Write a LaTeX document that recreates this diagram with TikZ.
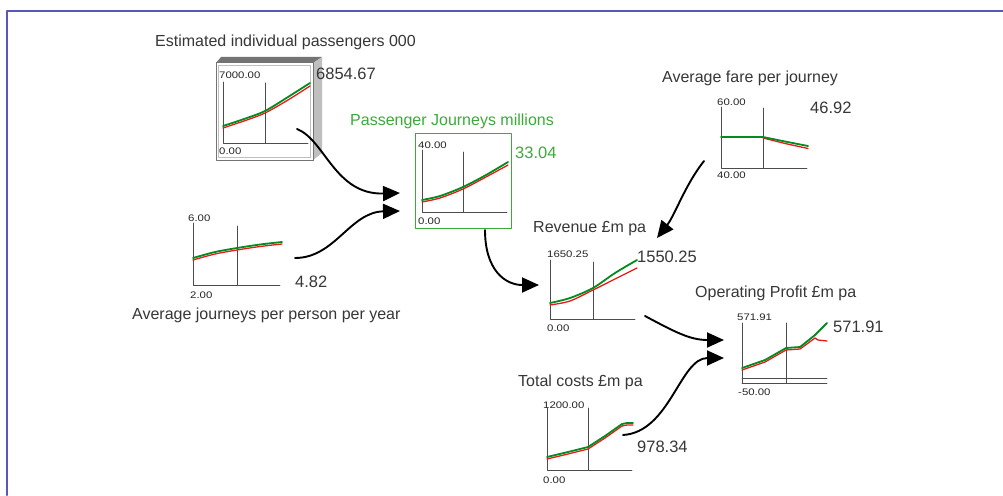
\documentclass[tikz,border=0pt]{standalone}
\usepackage{fontspec}
\setmainfont{Liberation Sans}
\newfontfamily\tickfont[FakeStretch=1.2]{Liberation Sans}
\usetikzlibrary{arrows.meta}
\definecolor{framecol}{RGB}{88,88,184}
\definecolor{runcol}{RGB}{0,140,30}
\definecolor{basecol}{RGB}{235,25,25}
\definecolor{txtcol}{RGB}{55,55,55}
\definecolor{pjgreen}{RGB}{60,170,60}

\begin{document}
\begin{tikzpicture}[x=1pt,y=-1pt,line cap=round,line join=round,
  axis/.style={line width=0.9pt,color=black!70},
  run/.style={line width=1.8pt,color=runcol},
  base/.style={line width=1.3pt,color=basecol},
  flow/.style={line width=1.9pt,-{Triangle[length=17pt,width=15pt]}},
  title/.style={anchor=west,inner sep=0pt,text=txtcol,font=\fontsize{16}{16}\selectfont},
  value/.style={anchor=west,inner sep=0pt,text=txtcol,font=\fontsize{16.5}{16}\selectfont},
  tick/.style={anchor=west,inner sep=0pt,text=black!85,font=\tickfont\fontsize{9.5}{9.5}\selectfont}]
\useasboundingbox (0,0) rectangle (1003,495);
\fill[white] (0,0) rectangle (1003,495);
% frame
\draw[line width=2.2pt,color=framecol] (7,495) -- (7,11) -- (1003,11);

% Estimated individual passengers
\fill[black!55] (216,63) -- (221,57) -- (322,57) -- (313,63) -- cycle;
\fill[black!25] (313,63) -- (322,57) -- (322,153) -- (313,160) -- cycle;
\draw[black!55,line width=1pt] (216,63) rectangle (313,160);
\draw[black!25] (218.5,65.5) rectangle (310.5,157.5);
\draw[axis] (223,82) -- (223,143) -- (308,143);
\draw[axis] (265,83) -- (265,143);
\draw[base] plot[smooth] coordinates {(223,128) (244,121) (265,113) (288,100) (310,86)};
\draw[run] plot[smooth] coordinates {(223,126) (244,119) (265,111) (288,97) (310,83)};
\node[title] (est-title) at (155,42) {Estimated individual passengers 000};
\node[tick] (est-max) at (219,75) {7000.00};
\node[tick] (est-min) at (219,151) {0.00};
\node[value] (est-val) at (316,74) {6854.67};

% Passenger Journeys millions
\draw[pjgreen,line width=1pt] (415,133) rectangle (511,228);
\draw[axis] (422,150) -- (422,212) -- (507,212);
\draw[axis] (463,152) -- (463,212);
\draw[base] plot[smooth] coordinates {(422,202) (440,198) (463,189) (486,177) (508,165)};
\draw[run] plot[smooth] coordinates {(422,200) (440,196) (463,187) (486,175) (508,162)};
\node[title,text=pjgreen] (pj-title) at (350,121) {Passenger Journeys millions};
\node[tick] (pj-max) at (418,145) {40.00};
\node[tick] (pj-min) at (418,221) {0.00};
\node[value,text=pjgreen] (pj-val) at (515,153) {33.04};

% Average fare per journey
\draw[axis] (721,107) -- (721,168) -- (807,168);
\draw[axis] (763,108) -- (763,168);
\draw[base] (763,138) -- (785,143.5) -- (808,148.5);
\draw[run] (721,137) -- (763,137) -- (785,141.5) -- (808,146);
\node[title] (fare-title) at (662,78) {Average fare per journey};
\node[tick] (fare-max) at (717,102) {60.00};
\node[tick] (fare-min) at (717,175) {40.00};
\node[value] (fare-val) at (810,108) {46.92};

% Average journeys per person per year
\draw[axis] (193,223) -- (193,285) -- (280,285);
\draw[axis] (237,226) -- (237,285);
\draw[base] plot[smooth] coordinates {(193,260) (215,254) (237,250) (260,246.5) (282,244)};
\draw[run] plot[smooth] coordinates {(193,258) (215,252) (237,248) (260,244.5) (282,242)};
\node[title] (ajp-title) at (132,315) {Average journeys per person per year};
\node[tick] (ajp-max) at (188,218) {6.00};
\node[tick] (ajp-min) at (190,295) {2.00};
\node[value] (ajp-val) at (295,282) {4.82};

% Revenue
\draw[axis] (550,260) -- (550,319) -- (635,319);
\draw[axis] (593,262) -- (593,319);
\draw[base] plot[smooth] coordinates {(550,305) (570,301) (593,290) (615,279) (637,268)};
\draw[run] plot[smooth] coordinates {(550,303) (570,298) (593,288) (615,273) (637,260)};
\node[title] (rev-title) at (533,229) {Revenue £m pa};
\node[tick] (rev-max) at (547,254) {1650.25};
\node[tick] (rev-min) at (547,328) {0.00};
\node[value] (rev-val) at (637,257) {1550.25};

% Operating Profit
\draw[axis] (742,323) -- (742,383);
\draw[axis] (742,378) -- (827,378);
\draw[axis] (742,383) -- (827,383);
\draw[axis] (786,323) -- (786,383);
\draw[base] (742,370) -- (765,362) -- (786,350) -- (800,349) -- (815,338) -- (818,340) -- (827,341);
\draw[run] (742,368) -- (765,360) -- (786,348) -- (800,347) -- (815,335) -- (827,323);
\node[title] (op-title) at (695,293) {Operating Profit £m pa};
\node[tick] (op-max) at (737,317) {571.91};
\node[tick] (op-min) at (738,392) {-50.00};
\node[value] (op-val) at (833,327) {571.91};

% Total costs
\draw[axis] (547,408) -- (547,470) -- (632,470);
\draw[axis] (588,408) -- (588,470);
\draw[base] (547,459) -- (568,454) -- (588,449) -- (605,438) -- (622,426) -- (627,425) -- (633,425);
\draw[run] (547,457) -- (568,452) -- (588,447) -- (605,436) -- (622,424) -- (627,423) -- (633,423);
\node[title] (cost-title) at (518,382) {Total costs £m pa};
\node[tick] (cost-max) at (543,405) {1200.00};
\node[tick] (cost-min) at (543,480) {0.00};
\node[value] (cost-val) at (637,447) {978.34};

% links
\coordinate (est-out) at (297,129);
\coordinate (pj-in-a) at (400,193);
\coordinate (ajp-out) at (295,258);
\coordinate (pj-in-b) at (400,211);
\coordinate (pj-out) at (485,230);
\coordinate (rev-in-a) at (539,285);
\coordinate (fare-out) at (704,161);
\coordinate (rev-in-b) at (657,238);
\coordinate (rev-out) at (645,316);
\coordinate (op-in-a) at (724,340);
\coordinate (cost-out) at (623,435);
\coordinate (op-in-b) at (724,358);
\draw[flow] (est-out) .. controls (325,140) and (335,195) .. (pj-in-a);
\draw[flow] (ajp-out) .. controls (335,258) and (350,212) .. (pj-in-b);
\draw[flow] (pj-out) .. controls (485,270) and (505,285) .. (rev-in-a);
\draw[flow] (fare-out) .. controls (685,185) and (675,215) .. (rev-in-b);
\draw[flow] (rev-out) .. controls (675,332) and (690,340) .. (op-in-a);
\draw[flow] (cost-out) .. controls (670,432) and (680,358) .. (op-in-b);
\end{tikzpicture}
\end{document}
